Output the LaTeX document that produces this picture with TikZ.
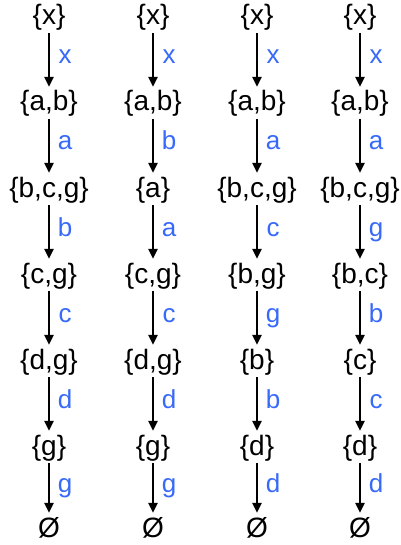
\documentclass[tikz,border=0pt]{standalone}
\usepackage{fontspec}
\setmainfont{Liberation Sans}
\usetikzlibrary{arrows.meta}
\definecolor{lblue}{RGB}{55,105,250}
\begin{document}
\begin{tikzpicture}[x=1pt,y=-1pt,
  set/.style={inner sep=0pt,font=\fontsize{28}{28}\selectfont,text height=20pt,text depth=6pt,anchor=base},
  empty/.style={set,text depth=1pt},
  lab/.style={font=\fontsize{26}{26}\selectfont,text=lblue,anchor=base,inner sep=0pt},
  edge/.style={line width=2.4pt,-{Triangle[length=10pt,width=9pt]},shorten <=2pt,shorten >=4pt}]
\useasboundingbox (0,0) rectangle (400,545);
% row baselines
\def\ra{25}\def\rb{111}\def\rc{197}\def\rd{283}\def\re{369}\def\rf{455}\def\rg{537}
% column 1
\node[set] (a0) at (49,\ra) {\{x\}};
\node[set] (a1) at (49,\rb) {\{a,b\}};
\node[set] (a2) at (49,\rc) {\{b,c,g\}};
\node[set] (a3) at (49,\rd) {\{c,g\}};
\node[set] (a4) at (49,\re) {\{d,g\}};
\node[set] (a5) at (49,\rf) {\{g\}};
\node[empty] (a6) at (49,\rg) {Ø};
% column 2
\node[set] (b0) at (153,\ra) {\{x\}};
\node[set] (b1) at (153,\rb) {\{a,b\}};
\node[set] (b2) at (153,\rc) {\{a\}};
\node[set] (b3) at (153,\rd) {\{c,g\}};
\node[set] (b4) at (153,\re) {\{d,g\}};
\node[set] (b5) at (153,\rf) {\{g\}};
\node[empty] (b6) at (153,\rg) {Ø};
% column 3
\node[set] (c0) at (257,\ra) {\{x\}};
\node[set] (c1) at (257,\rb) {\{a,b\}};
\node[set] (c2) at (257,\rc) {\{b,c,g\}};
\node[set] (c3) at (257,\rd) {\{b,g\}};
\node[set] (c4) at (257,\re) {\{b\}};
\node[set] (c5) at (257,\rf) {\{d\}};
\node[empty] (c6) at (257,\rg) {Ø};
% column 4
\node[set] (d0) at (360,\ra) {\{x\}};
\node[set] (d1) at (360,\rb) {\{a,b\}};
\node[set] (d2) at (360,\rc) {\{b,c,g\}};
\node[set] (d3) at (360,\rd) {\{b,c\}};
\node[set] (d4) at (360,\re) {\{c\}};
\node[set] (d5) at (360,\rf) {\{d\}};
\node[empty] (d6) at (360,\rg) {Ø};
% arrows with labels
\foreach \c/\la/\lb/\lc/\ld/\le/\lf in {a/x/a/b/c/d/g, b/x/b/a/c/d/g, c/x/a/c/g/b/d, d/x/a/g/b/c/d}{
  \draw[edge] (\c0) -- (\c1) node[lab,pos=0.5,xshift=16pt,yshift=-3pt]{\la};
  \draw[edge] (\c1) -- (\c2) node[lab,pos=0.5,xshift=16pt,yshift=-3pt]{\lb};
  \draw[edge] (\c2) -- (\c3) node[lab,pos=0.5,xshift=16pt,yshift=-3pt]{\lc};
  \draw[edge] (\c3) -- (\c4) node[lab,pos=0.5,xshift=16pt,yshift=-3pt]{\ld};
  \draw[edge] (\c4) -- (\c5) node[lab,pos=0.5,xshift=16pt,yshift=-3pt]{\le};
  \draw[edge] (\c5) -- (\c6) node[lab,pos=0.5,xshift=16pt,yshift=-3pt]{\lf};
}
\end{tikzpicture}
\end{document}
